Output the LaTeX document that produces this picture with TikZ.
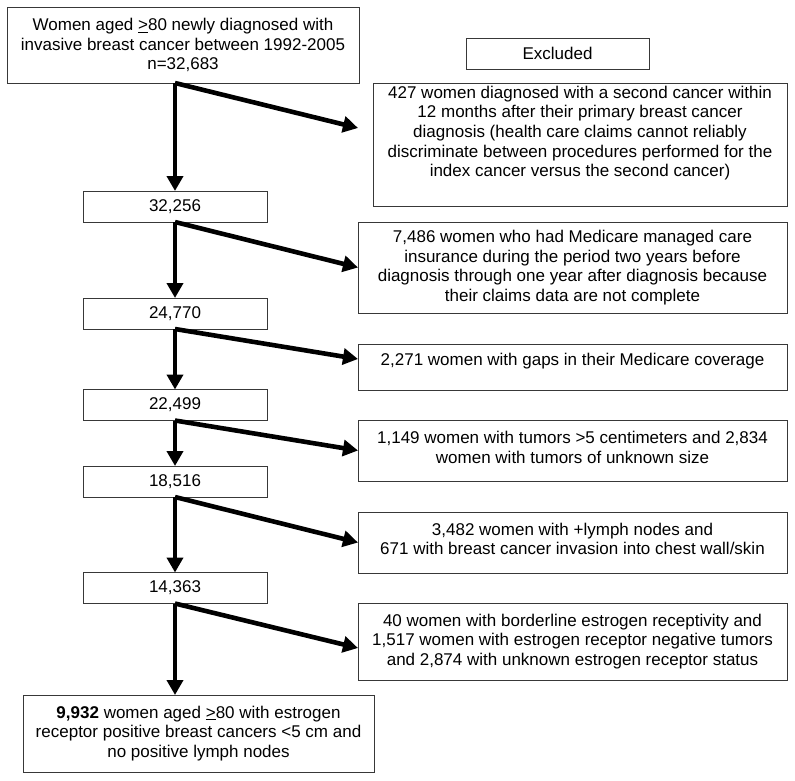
\documentclass[tikz,border=0pt]{standalone}
\usepackage{fontspec}
\setmainfont{Liberation Sans}
\usetikzlibrary{arrows.meta,calc}
\begin{document}
\begin{tikzpicture}[x=1pt,y=-1pt,
  box/.style={draw=black!78, line width=0.9pt, inner sep=0pt, outer sep=0pt},
  txt/.style={align=center, inner sep=0pt, font=\fontsize{17}{19.7}\selectfont},
  arr/.style={line width=4.6pt, -{Triangle[length=15pt,width=16pt]}}]
\useasboundingbox (0,0) rectangle (795,780);
% left column
\node[box,txt,minimum width=352,minimum height=76] (top) at (183,45)
  {Women aged \underline{>}80 newly diagnosed with\\invasive breast cancer between 1992-2005\\n=32,683};
\node[box,txt,minimum width=184,minimum height=31] (n1) at (175,206.5) {32,256};
\node[box,txt,minimum width=184,minimum height=31] (n2) at (175,313.5) {24,770};
\node[box,txt,minimum width=184,minimum height=31] (n3) at (175,405) {22,499};
\node[box,txt,minimum width=184,minimum height=31] (n4) at (175,481.5) {18,516};
\node[box,txt,minimum width=184,minimum height=31] (n5) at (175,588) {14,363};
\node[box,txt,minimum width=351,minimum height=77] (fin) at (198.5,733.5)
  {\textbf{9,932} women aged \underline{>}80 with estrogen\\receptor positive breast cancers <5 cm and\\no positive lymph nodes};
% right column
\node[box,txt,minimum width=183,minimum height=31] (ex) at (557.5,53.5) {Excluded};
\node[box,minimum width=414,minimum height=123] (e1) at (580,144.5) {};
\node[txt] (t1) at (580,133) {427 women diagnosed with a second cancer within\\12 months after their primary breast cancer\\diagnosis (health care claims cannot reliably\\discriminate between procedures performed for the\\index cancer versus the second cancer)};
\node[box,txt,minimum width=429,minimum height=91] (e2) at (572.5,267.5) {7,486 women who had Medicare managed care\\insurance during the period two years before\\diagnosis through one year after diagnosis because\\their claims data are not complete};
\node[box,minimum width=429,minimum height=46] (e3) at (572.5,367) {};
\node[txt] (t3) at (572.5,361) {2,271 women with gaps in their Medicare coverage};
\node[box,minimum width=429,minimum height=61] (e4) at (572.5,450.5) {};
\node[txt] (t4) at (572.5,447.5) {1,149 women with tumors >5 centimeters and 2,834\\women with tumors of unknown size};
\node[box,minimum width=429,minimum height=61] (e5) at (572.5,542.5) {};
\node[txt] (t5) at (572.5,539) {3,482 women with +lymph nodes and\\671 with breast cancer invasion into chest wall/skin};
\node[box,txt,minimum width=429,minimum height=77] (e6) at (572.5,641.5) {40 women with borderline estrogen receptivity and\\1,517 women with estrogen receptor negative tumors\\and 2,874 with unknown estrogen receptor status};
% arrow anchors
\coordinate (s0) at (top.south -| n1.north);
\coordinate (a1) at ($(e1.west)+(-15,-16.5)$);
\coordinate (a3) at ($(e3.west)+(0,-8)$);
\coordinate (a6) at ($(e6.west)+(0,6.5)$);
\coordinate (f0) at (n5.south |- fin.north);
% arrows
\draw[arr] (s0) -- (n1.north);
\draw[arr] (s0) -- (a1);
\draw[arr] (n1.south) -- (n2.north);
\draw[arr] (n1.south) -- (e2.west);
\draw[arr] (n2.south) -- (n3.north);
\draw[arr] (n2.south) -- (a3);
\draw[arr] (n3.south) -- (n4.north);
\draw[arr] (n3.south) -- (e4.west);
\draw[arr] (n4.south) -- (n5.north);
\draw[arr] (n4.south) -- (e5.west);
\draw[arr] (n5.south) -- (f0);
\draw[arr] (n5.south) -- (a6);
\end{tikzpicture}
\end{document}
